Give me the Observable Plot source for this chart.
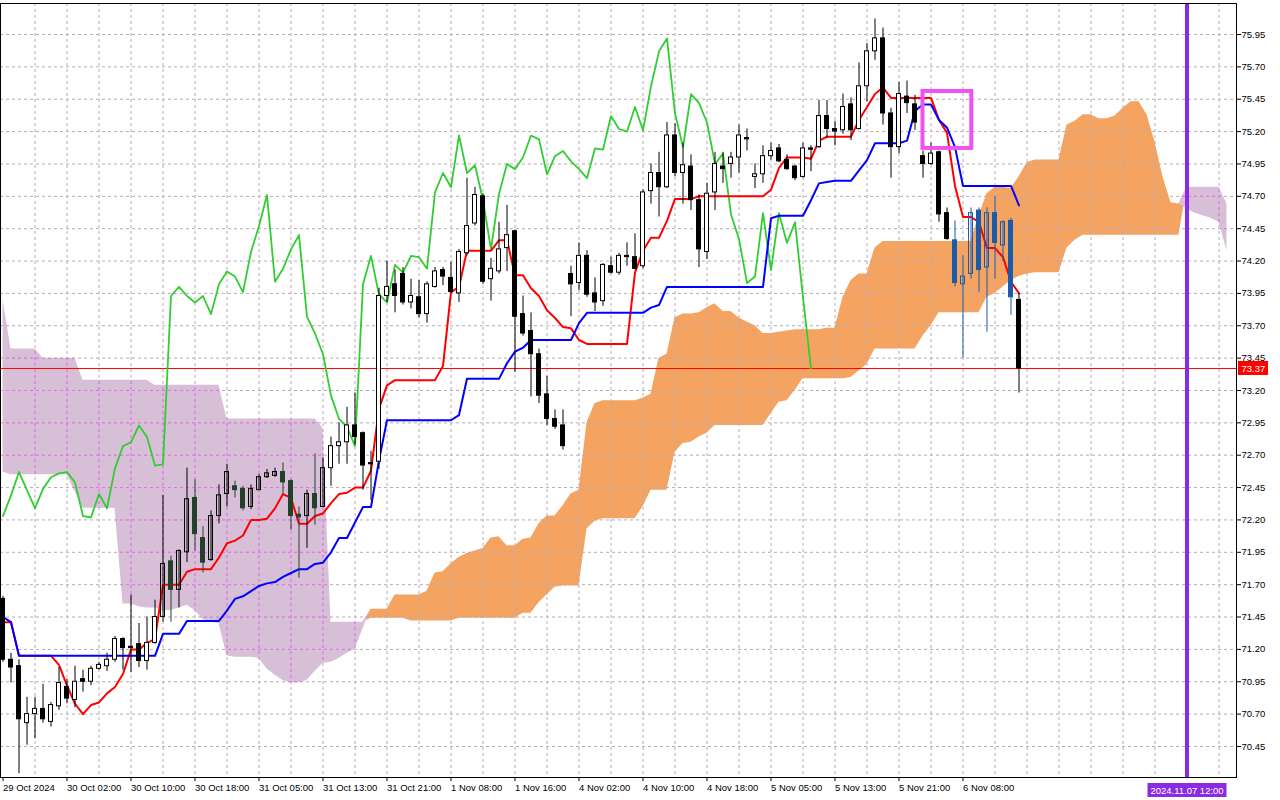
<!DOCTYPE html>
<html><head><meta charset="utf-8">
<script src="https://cdn.jsdelivr.net/npm/d3@7"></script>
<script src="https://cdn.jsdelivr.net/npm/@observablehq/plot@0.6"></script>
<style>html,body{margin:0;padding:0;background:#fff;overflow:hidden}</style>
</head><body><div id="chart"></div>
<script>
// ---- candles (hourly bars, index 0 = first bar) ----
const open = [71.59,71.12,71.07,70.63,70.70,70.74,70.64,70.76,70.91,70.81,
 70.97,70.95,71.05,71.07,71.12,71.28,71.22,71.24,71.11,71.25,
 71.45,71.88,71.66,71.95,72.37,72.06,71.89,72.23,72.40,72.46,
 72.44,72.30,72.43,72.53,72.54,72.57,72.50,72.24,72.23,72.40,
 72.30,72.60,72.77,72.80,72.93,72.87,72.64,72.65,73.93,74.02,
 74.10,73.88,73.92,73.79,74.00,74.13,74.07,73.95,74.26,74.49,
 74.70,74.06,74.12,74.30,74.43,73.79,73.66,73.48,73.17,72.98,
 72.93,74.10,74.03,74.24,73.95,73.89,74.16,74.11,74.24,74.23,
 74.16,74.74,74.88,74.77,75.17,74.88,74.93,74.67,74.27,74.73,
 74.93,74.95,75.00,75.15,74.85,74.87,75.01,75.07,74.98,74.93,
 74.85,75.07,75.08,75.32,75.22,75.21,75.41,75.22,75.55,75.82,
 75.92,75.34,75.08,75.47,75.41,75.01,74.95,75.04,74.57,74.36,
 74.02,74.10,74.59,74.15,74.57,74.32,74.51,73.90];
const high = [71.61,71.17,71.12,70.83,70.83,70.93,70.79,71.06,70.97,71.07,
 71.04,71.07,71.10,71.17,71.30,71.29,71.62,71.40,71.45,71.58,
 72.39,71.92,71.97,72.60,72.51,72.15,72.27,72.47,72.63,72.50,
 72.46,72.47,72.55,72.59,72.60,72.64,72.51,72.30,72.43,72.71,
 72.68,72.84,72.95,73.07,73.18,72.88,72.73,73.99,74.20,74.13,
 74.15,74.06,74.05,74.04,74.15,74.15,74.19,74.29,74.84,74.77,
 74.72,74.22,74.50,74.63,74.44,73.93,73.80,73.52,73.31,73.05,
 73.05,74.16,74.34,74.28,74.07,74.18,74.23,74.26,74.34,74.41,
 74.75,74.95,75.04,75.27,75.26,75.11,75.02,74.71,74.80,75.04,
 75.04,75.04,75.25,75.22,74.95,75.09,75.11,75.10,75.02,74.94,
 75.11,75.09,75.44,75.44,75.28,75.49,75.46,75.73,75.88,76.07,
 76.00,75.38,75.58,75.59,75.48,75.05,75.11,75.05,74.61,74.51,
 74.24,74.61,74.61,74.61,74.70,74.51,74.53,73.95];
const low = [71.10,70.94,70.24,70.46,70.51,70.63,70.60,70.73,70.78,70.75,
 70.87,70.92,71.04,71.03,71.10,71.04,71.02,71.06,71.04,71.24,
 71.41,71.41,71.52,71.87,71.96,71.79,71.88,72.17,72.30,72.37,
 72.27,72.28,72.43,72.52,72.53,72.40,72.12,71.75,71.98,72.16,
 72.30,72.46,72.63,72.63,72.78,72.43,72.35,72.59,73.88,73.80,
 73.86,73.83,73.76,73.72,73.99,74.01,73.95,73.88,74.24,74.47,
 74.02,73.89,74.10,74.12,73.34,73.62,73.15,73.10,72.93,72.90,
 72.74,73.77,73.97,73.92,73.81,73.85,74.10,74.09,74.16,74.13,
 74.14,74.64,74.54,74.76,74.85,74.64,74.59,74.15,74.21,74.59,
 74.80,74.84,74.88,75.05,74.76,74.80,74.98,74.96,74.90,74.82,
 74.84,74.89,75.07,75.15,75.09,75.18,75.13,75.21,75.43,75.75,
 75.25,74.84,75.03,75.34,75.21,74.84,74.94,74.50,74.36,74.00,
 73.45,74.06,73.96,73.65,74.06,74.20,73.78,73.18];
const close = [71.12,71.06,70.66,70.70,70.74,70.66,70.77,70.94,70.82,70.95,
 70.95,71.05,71.08,71.12,71.28,71.21,71.21,71.11,71.25,71.45,
 71.86,71.66,71.96,72.36,72.09,71.87,72.23,72.39,72.57,72.43,
 72.29,72.44,72.53,72.56,72.57,72.49,72.23,72.22,72.40,72.29,
 72.60,72.77,72.80,72.93,72.84,72.62,72.63,73.93,74.00,73.93,
 73.88,73.93,73.79,74.02,74.12,74.08,73.96,74.27,74.47,74.71,
 74.04,74.14,74.29,74.40,73.77,73.64,73.48,73.16,72.98,72.92,
 72.77,74.02,74.24,73.94,73.88,74.17,74.11,74.24,74.23,74.14,
 74.73,74.88,74.77,75.17,74.88,74.94,74.67,74.29,74.72,74.95,
 74.91,75.00,75.17,75.14,74.87,75.01,75.05,74.97,74.91,74.84,
 75.07,75.06,75.32,75.22,75.20,75.39,75.21,75.55,75.82,75.92,
 75.34,75.08,75.49,75.42,75.27,74.95,75.03,74.56,74.37,74.03,
 74.08,74.57,74.13,74.57,74.34,74.50,73.92,73.37];

// ---- Ichimoku lines ----
const tenkan = [71.41,71.41,71.15,71.15,71.15,71.15,71.15,71.08,70.92,70.78,
 70.70,70.77,70.79,70.86,70.91,71.01,71.20,71.20,71.25,71.28,
 71.70,71.70,71.70,71.80,71.82,71.82,71.82,71.91,72.02,72.04,
 72.08,72.20,72.20,72.21,72.29,72.40,72.37,72.17,72.17,72.23,
 72.25,72.33,72.40,72.41,72.45,72.45,72.58,73.06,73.24,73.28,
 73.28,73.28,73.28,73.28,73.28,73.39,73.96,74.00,74.28,74.28,
 74.28,74.28,74.36,74.36,74.09,74.09,73.99,73.93,73.82,73.76,
 73.69,73.68,73.59,73.56,73.56,73.56,73.56,73.56,73.56,74.11,
 74.28,74.38,74.38,74.51,74.68,74.68,74.68,74.70,74.70,74.70,
 74.70,74.70,74.70,74.70,74.70,74.70,74.75,74.92,75.00,75.00,
 75.00,74.99,75.13,75.16,75.16,75.16,75.16,75.29,75.39,75.49,
 75.54,75.46,75.46,75.46,75.46,75.46,75.46,75.29,75.19,74.78,
 74.54,74.54,74.50,74.30,74.30,74.23,74.04,73.95];
const kijun = [71.45,71.41,71.15,71.15,71.15,71.15,71.15,71.15,71.15,71.15,
 71.15,71.15,71.15,71.15,71.15,71.15,71.15,71.15,71.15,71.15,
 71.32,71.32,71.32,71.42,71.42,71.42,71.42,71.42,71.50,71.59,
 71.61,71.65,71.69,71.71,71.72,71.76,71.79,71.82,71.82,71.86,
 71.87,71.95,72.06,72.06,72.18,72.30,72.30,72.66,72.97,72.97,
 72.97,72.97,72.97,72.97,72.97,72.97,72.97,73.01,73.29,73.29,
 73.29,73.29,73.29,73.41,73.50,73.53,73.59,73.59,73.59,73.59,
 73.59,73.59,73.72,73.80,73.80,73.80,73.80,73.80,73.80,73.80,
 73.80,73.84,73.86,74.00,74.00,74.00,74.00,74.00,74.00,74.00,
 74.00,74.00,74.00,74.00,74.00,74.00,74.53,74.55,74.55,74.55,
 74.55,74.67,74.80,74.81,74.82,74.82,74.82,74.90,74.98,75.11,
 75.11,75.11,75.11,75.13,75.36,75.41,75.41,75.29,75.23,75.08,
 74.78,74.78,74.78,74.78,74.78,74.78,74.78,74.63];
// Senkou spans (cloud), 154 positions including the 26 bars ahead
const spanA = [72.57,72.55,72.55,72.55,72.55,72.55,72.55,72.55,72.55,72.42,
 72.29,72.29,72.29,72.29,72.29,71.55,71.55,71.53,71.52,71.52,
 71.50,71.50,71.52,71.54,71.50,71.43,71.41,71.40,71.15,71.14,
 71.14,71.14,71.13,71.05,71.00,70.96,70.94,70.94,70.96,71.03,
 71.09,71.10,71.13,71.17,71.20,71.36,71.51,71.51,71.51,71.62,
 71.62,71.62,71.62,71.65,71.79,71.80,71.86,71.91,71.94,71.96,
 71.98,72.06,72.07,72.00,72.00,72.05,72.06,72.17,72.23,72.23,
 72.31,72.40,72.43,72.95,73.10,73.12,73.12,73.12,73.12,73.12,
 73.14,73.17,73.45,73.48,73.76,73.79,73.79,73.80,73.84,73.87,
 73.81,73.81,73.76,73.73,73.70,73.64,73.64,73.65,73.66,73.67,
 73.67,73.67,73.67,73.68,73.68,73.92,74.05,74.10,74.10,74.30,
 74.35,74.35,74.35,74.35,74.35,74.35,74.35,74.35,74.35,74.35,
 74.35,74.35,74.55,74.72,74.77,74.77,74.76,74.85,74.96,74.98,
 74.98,74.98,74.98,75.25,75.28,75.33,75.33,75.30,75.30,75.32,
 75.38,75.43,75.43,75.33,75.12,74.85,74.65,74.64,74.60,74.57,
 74.55,74.53,74.50,74.28];
const spanB = [73.90,73.52,73.52,73.52,73.52,73.45,73.45,73.45,73.45,73.45,
 73.28,73.28,73.28,73.28,73.28,73.28,73.28,73.28,73.28,73.24,
 73.24,73.24,73.24,73.24,73.24,73.24,73.24,73.24,72.98,72.98,
 72.98,72.98,72.98,72.98,72.98,72.98,72.98,72.98,72.98,72.98,
 72.91,71.41,71.41,71.41,71.41,71.41,71.44,71.44,71.44,71.44,
 71.44,71.42,71.42,71.42,71.42,71.42,71.42,71.44,71.44,71.44,
 71.44,71.44,71.44,71.44,71.44,71.48,71.48,71.56,71.62,71.68,
 71.69,71.69,71.69,72.13,72.19,72.21,72.21,72.21,72.21,72.21,
 72.30,72.43,72.43,72.43,72.72,72.79,72.80,72.84,72.87,72.93,
 72.93,72.93,72.93,72.93,72.93,72.93,73.02,73.11,73.12,73.20,
 73.29,73.29,73.29,73.29,73.29,73.29,73.30,73.35,73.40,73.52,
 73.52,73.52,73.52,73.52,73.52,73.62,73.70,73.80,73.80,73.80,
 73.80,73.80,73.80,73.92,73.95,74.00,74.05,74.08,74.10,74.11,
 74.11,74.11,74.11,74.30,74.36,74.40,74.40,74.40,74.40,74.40,
 74.40,74.40,74.40,74.40,74.40,74.40,74.40,74.40,74.77,74.77,
 74.77,74.77,74.77,74.64];
const chikouShift = 26;

// ---- axes / annotations ----
const timeLabels = ["29 Oct 2024","30 Oct 02:00","30 Oct 10:00","30 Oct 18:00","31 Oct 05:00",
 "31 Oct 13:00","31 Oct 21:00","1 Nov 08:00","1 Nov 16:00","4 Nov 02:00","4 Nov 10:00",
 "4 Nov 18:00","5 Nov 05:00","5 Nov 13:00","5 Nov 21:00","6 Nov 08:00"];
const timeLabelBars = [0,8,16,24,32,40,48,56,64,72,80,88,96,104,112,120];
const gridBars = [4,8,12,16,20,24,28,32,36,40,44,48,52,56,60,64,68,72,76,80,84,88,92,96,100,
 104,108,112,116,120,124,128,132,136,140,144,148,152];
const priceTicks = [70.45,70.70,70.95,71.20,71.45,71.70,71.95,72.20,72.45,72.70,72.95,73.20,
 73.45,73.70,73.95,74.20,74.45,74.70,74.95,75.20,75.45,75.70,75.95];
const bidPrice = 73.37;
const futureBar = 148;
const futureLabel = "2024.11.07 12:00";
const markBox = {x1: 115, x2: 121.1, y1: 75.07, y2: 75.51};

// ---- view ----
const xDomain = [-0.3125, 154.1875];
const yDomain = [70.2103, 76.1895];
const W = 1280, H = 800, mR = 44, mB = 23, mT = 3;
const pxY = (yDomain[1] - yDomain[0]) / (H - mT - mB);
const pxX = (xDomain[1] - xDomain[0]) / (W - mR);

const candles = open.map((o, i) => {
  const a = spanA[i], b = spanB[i];
  const lo = Math.min(a, b), hi = Math.max(a, b);
  const bLo = Math.min(o, close[i]), bHi = Math.max(o, close[i]);
  const inside = bHi >= lo && bLo <= hi;
  return {i, o, h: high[i], l: low[i], c: close[i], bull: close[i] >= o,
    cloud: inside ? (a > b ? "up" : "down") : null};
});
const cloud = spanA.map((a, i) => ({i, a, b: spanB[i], top: Math.max(a, spanB[i])}));
const chikou = close.slice(chikouShift).map((v, k) => ({i: k, v}));
const line = (arr) => arr.map((v, i) => ({i, v}));

const wickColor = d => d.cloud === "up" ? "#1c5aa8" : d.cloud === "down" && !d.bull ? "#23402a" : "#000";
const bodyFill = d => d.bull ? (d.cloud ? "none" : "#fff") : wickColor(d);
const gridStyle = {stroke: "#b8aab8", strokeOpacity: 1, strokeDasharray: "3,3"};

const chart = Plot.plot({
  width: W, height: H,
  marginLeft: 0, marginRight: mR, marginTop: mT, marginBottom: mB,
  x: {domain: xDomain, axis: null},
  y: {domain: yDomain, axis: null},
  style: {fontFamily: "'Liberation Sans', Arial, sans-serif", fontSize: "9.5px", background: "#fff", overflow: "visible"},
  marks: [
    Plot.areaY(cloud, {x: "i", y1: "b", y2: "top", fill: "#f4a460"}),
    Plot.areaY(cloud, {x: "i", y1: "a", y2: "top", fill: "#d8bfd8"}),
    Plot.gridY({ticks: priceTicks, ...gridStyle}),
    Plot.gridX({ticks: gridBars, ...gridStyle}),
    Plot.ruleY([bidPrice], {stroke: "#ff0000", strokeWidth: 1}),
    Plot.line(chikou, {x: "i", y: "v", stroke: "#32cd32", strokeWidth: 1.8}),
    Plot.line(line(tenkan), {x: "i", y: "v", stroke: "#ff0000", strokeWidth: 2}),
    Plot.line(line(kijun), {x: "i", y: "v", stroke: "#0000ff", strokeWidth: 2}),
    Plot.ruleX(candles, {x: "i", y1: "l", y2: "h", stroke: wickColor, strokeWidth: 1}),
    Plot.rect(candles, {x1: d => d.i - 0.25, x2: d => d.i + 0.25, y1: "o", y2: "c",
      fill: bodyFill, stroke: wickColor, strokeWidth: 1}),
    Plot.rect([markBox], {x1: "x1", x2: "x2", y1: "y1", y2: "y2", fill: "none", stroke: "#f052f0", strokeWidth: 4}),
    Plot.ruleX([futureBar], {stroke: "#8a2be2", strokeWidth: 4}),
    Plot.frame({stroke: "#000"}),
    Plot.axisY({ticks: priceTicks, anchor: "right", tickSize: 4, tickPadding: 1,
      tickFormat: d => d.toFixed(2), textAnchor: "start", fill: "#000"}),
    Plot.axisX({ticks: timeLabelBars, anchor: "bottom", tickSize: 4, tickPadding: 3,
      tickFormat: d => timeLabels[timeLabelBars.indexOf(d)], textAnchor: "start", dx: 0, fill: "#000"}),
    // bid price tag
    Plot.rect([bidPrice], {x1: xDomain[1] + 2 * pxX, x2: xDomain[1] + 32 * pxX,
      y1: d => d - 7 * pxY, y2: d => d + 7 * pxY, fill: "#ff0000"}),
    Plot.text([bidPrice], {x: xDomain[1], y: d => d, dx: 5, text: d => d.toFixed(2),
      textAnchor: "start", fill: "#fff"}),
    // time cursor tag
    Plot.rect([futureBar], {x1: d => d - 39 * pxX, x2: d => d + 40 * pxX,
      y1: yDomain[0] - 6 * pxY, y2: yDomain[0] - 20 * pxY, fill: "#8a2be2"}),
    Plot.text([futureBar], {x: d => d, y: yDomain[0] - 13 * pxY, text: () => futureLabel, fill: "#fff"})
  ]
});
document.getElementById("chart").appendChild(chart);

// grid seen through the bearish (thistle) cloud turns magenta, as in the terminal
(function () {
  const svg = d3.select(chart);
  const areas = svg.selectAll('g[aria-label="area"]').nodes();
  if (areas.length < 2) return;
  const purple = areas[1];
  const p = purple.querySelector("path");
  if (!p) return;
  const defs = svg.append("defs");
  const cp = defs.append("clipPath").attr("id", "thistleClip").attr("clipPathUnits", "userSpaceOnUse");
  const tr = [purple.getAttribute("transform"), p.getAttribute("transform")].filter(Boolean).join(" ");
  cp.append("path").attr("d", p.getAttribute("d")).attr("transform", tr || null);
  ["y-grid", "x-grid"].forEach(lbl => {
    const g = svg.select(`g[aria-label="${lbl}"]`).node();
    if (!g) return;
    const wrap = document.createElementNS("http://www.w3.org/2000/svg", "g");
    wrap.setAttribute("clip-path", "url(#thistleClip)");
    const c = g.cloneNode(true);
    c.setAttribute("stroke", "#ee6cee");
    c.querySelectorAll("[stroke]").forEach(n => n.setAttribute("stroke", "#ee6cee"));
    wrap.appendChild(c);
    g.parentNode.insertBefore(wrap, g.nextSibling);
  });
})();
</script>
</body></html>
